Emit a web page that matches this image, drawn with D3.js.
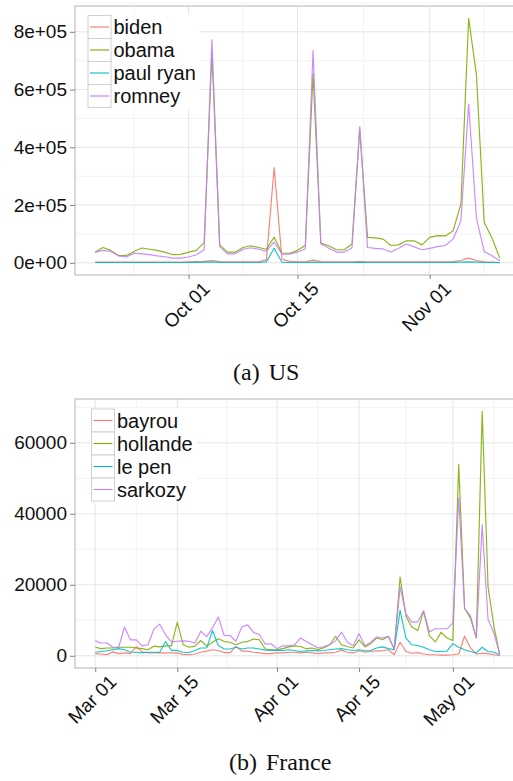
<!DOCTYPE html>
<html>
<head>
<meta charset="utf-8">
<script src="https://cdn.jsdelivr.net/npm/d3@7"></script>
<style>
  body { margin: 0; background: #fff; }
  svg { display: block; }
</style>
</head>
<body>
<script>
// US panel: daily counts, Sep 19 to Nov 10 2012
let usStart = "2012-09-19", usEnd = "2012-11-10"
let usNames = ["biden", "obama", "paul ryan", "romney"]
let biden = [
  2000, 2000, 2000, 2000, 2000, 2000, 2000, 2000, 2000, 2000,
  2000, 2000, 3000, 4000, 5000, 8000, 4000, 3000, 3000, 3000,
  3000, 3000, 10000, 330000, 12000, 5000, 3000, 3000, 9000, 4000,
  3000, 3000, 3000, 3000, 4000, 3000, 3000, 3000, 3000, 3000,
  3000, 3000, 3000, 3000, 3000, 3000, 4000, 8000, 16000, 8000,
  3000, 2000, 1000]
let obama = [
  37000, 53000, 43000, 25000, 25000, 39000, 51000, 47000, 43000, 36000,
  28000, 29000, 37000, 43000, 70000, 730000, 62000, 37000, 37000, 53000,
  59000, 53000, 47000, 89000, 33000, 33000, 43000, 60000, 655000, 68000,
  59000, 45000, 45000, 65000, 462000, 88000, 86000, 82000, 60000, 62000,
  76000, 76000, 62000, 88000, 94000, 93000, 111000, 203000, 847000, 651000,
  140000, 86000, 16000]
let paulRyan = [
  1000, 1000, 1000, 1000, 1000, 1000, 1000, 1000, 1000, 1000,
  1000, 1000, 1000, 1500, 2000, 3000, 1500, 1000, 1000, 1000,
  1000, 1000, 3000, 50000, 2000, 1000, 1000, 1000, 2000, 1000,
  1000, 1000, 1000, 1000, 1500, 1000, 1000, 1000, 1000, 1000,
  1000, 1000, 1000, 1000, 1000, 1000, 1500, 2000, 3000, 2000,
  1000, 1000, 500]
let romney = [
  36000, 43000, 39000, 24000, 20000, 33000, 31000, 28000, 24000, 21000,
  16000, 16000, 20000, 28000, 45000, 772000, 56000, 31000, 31000, 47000,
  52000, 47000, 40000, 72000, 30000, 30000, 37000, 48000, 735000, 66000,
  51000, 37000, 37000, 51000, 472000, 53000, 50000, 48000, 37000, 50000,
  65000, 55000, 45000, 50000, 56000, 60000, 82000, 145000, 550000, 155000,
  39000, 24000, 7000]
let usTicks = [0, 200000, 400000, 600000, 800000]
let usDateTicks = ["2012-10-01", "2012-10-15", "2012-11-01"]
let usDateMinor = ["2012-09-24", "2012-10-08", "2012-10-23T12:00", "2012-11-08"]

// France panel: daily counts, Mar 01 to May 09 2012
let frStart = "2012-03-01", frEnd = "2012-05-09"
let frNames = ["bayrou", "hollande", "le pen", "sarkozy"]
let bayrou = [
  600, 500, 300, 1100, 600, 800, 600, 2600, 1100, 800,
  800, 800, 800, 800, 800, 400, 300, 500, 1000, 1300,
  1700, 1500, 900, 900, 2600, 1300, 1300, 1000, 800, 600,
  600, 800, 800, 1000, 1000, 800, 1000, 800, 600, 800,
  800, 1000, 1600, 1000, 800, 1400, 1000, 1200, 1400, 1400,
  1700, 300, 3800, 1200, 700, 900, 500, 300, 300, 200,
  200, 300, 500, 5500, 2200, 500, 700, 600, 300, 0]
let hollande = [
  2400, 2000, 2200, 2200, 2400, 2400, 2400, 2200, 2000, 1700,
  2700, 2500, 2800, 2800, 9500, 3100, 2400, 2700, 4300, 2700,
  3800, 4800, 4000, 3800, 3100, 3800, 4000, 4700, 4500, 1900,
  1700, 1700, 2000, 2500, 2800, 2600, 2000, 2200, 1700, 2300,
  3100, 5500, 3100, 2600, 2200, 4500, 2500, 3400, 5000, 4500,
  5500, 1900, 22200, 11100, 8100, 7100, 12500, 5600, 3900, 6600,
  5000, 4300, 53900, 13400, 10600, 5000, 68900, 19500, 8300, 300]
let lePen = [
  1000, 1200, 1400, 1700, 2000, 1700, 1000, 1000, 800, 1000,
  1000, 1000, 4000, 1500, 1500, 1000, 900, 1500, 2200, 2200,
  7100, 2900, 1900, 1900, 2400, 1900, 2200, 2200, 1900, 1600,
  1500, 1500, 1500, 1700, 1500, 1200, 1400, 1500, 1400, 1500,
  1700, 1900, 2000, 1700, 1500, 1700, 1400, 1500, 2200, 2500,
  2000, 1700, 12800, 5000, 3100, 2900, 2400, 1700, 1200, 1200,
  1300, 3400, 2400, 1700, 1200, 800, 2400, 1200, 1000, 300]
let sarkozy = [
  4200, 3600, 3600, 2400, 2400, 8100, 4500, 4500, 2800, 3100,
  7500, 8900, 5900, 3900, 4100, 4200, 4100, 3600, 6900, 5400,
  7800, 10900, 5700, 5700, 4100, 8100, 8700, 6600, 6000, 3300,
  3400, 2000, 2800, 2800, 3100, 5000, 4000, 3100, 2200, 2600,
  3100, 4200, 6700, 3800, 2800, 6200, 2800, 3800, 5300, 5000,
  5500, 1900, 19400, 11800, 9500, 9500, 12700, 6700, 7600, 7600,
  7600, 9200, 44500, 13200, 11300, 5000, 36900, 10200, 6400, 300]
let frTicks = [0, 20000, 40000, 60000]
let frDateTicks = ["2012-03-01", "2012-03-15", "2012-04-01", "2012-04-15", "2012-05-01"]
let frDateMinor = ["2012-03-08", "2012-03-23T12:00", "2012-04-08", "2012-04-23", "2012-05-08"]

let colors = ["#F8766D", "#7CAE00", "#00BFC4", "#C77CFF"]

let width = 513, height = 781
let svg = d3.select("body").append("svg")
    .attr("width", width)
    .attr("height", height)

let parse = d3.isoParse
let sciFormat = v => d3.format(".0e")(v).replace(/e([+-])(\d)$/, "e$10$2")

function drawPanel(p) {
  let dates = d3.timeDay.range(parse(p.start), d3.timeDay.offset(parse(p.end), 1))
  let t0 = dates[0].getTime(), t1 = dates[dates.length - 1].getTime()
  let xpad = (t1 - t0) * 0.05
  let x = d3.scaleTime()
    .domain([new Date(t0 - xpad), new Date(t1 + xpad)])
    .range([p.left, p.right])

  let ymax = d3.max(p.values, s => d3.max(s))
  let ypad = ymax * 0.05
  let y = d3.scaleLinear()
    .domain([-ypad, ymax + ypad])
    .range([p.bottom, p.top])

  let g = svg.append("g")

  // minor then major grid lines
  let yMinor = p.yTicks.slice(1).map((v, i) => (v + p.yTicks[i]) / 2)
  yMinor.push(p.yTicks[p.yTicks.length - 1] + (p.yTicks[1] - p.yTicks[0]) / 2)
  g.selectAll(".ymin").data(yMinor).enter().append("line")
    .attr("x1", p.left).attr("x2", p.right)
    .attr("y1", d => y(d)).attr("y2", d => y(d))
    .attr("stroke", "#f2f2f2").attr("stroke-width", 1)
  g.selectAll(".xmin").data(p.xMinor.map(parse)).enter().append("line")
    .attr("x1", d => x(d)).attr("x2", d => x(d))
    .attr("y1", p.top).attr("y2", p.bottom)
    .attr("stroke", "#f2f2f2").attr("stroke-width", 1)
  g.selectAll(".ymaj").data(p.yTicks).enter().append("line")
    .attr("x1", p.left).attr("x2", p.right)
    .attr("y1", d => y(d)).attr("y2", d => y(d))
    .attr("stroke", "#e6e6e6").attr("stroke-width", 1)
  g.selectAll(".xmaj").data(p.xTicks.map(parse)).enter().append("line")
    .attr("x1", d => x(d)).attr("x2", d => x(d))
    .attr("y1", p.top).attr("y2", p.bottom)
    .attr("stroke", "#e6e6e6").attr("stroke-width", 1)

  // series lines
  let line = d3.line()
    .x((d, i) => x(dates[i]))
    .y(d => y(d))
  g.selectAll(".series").data(p.values).enter().append("path")
    .attr("d", line)
    .attr("fill", "none")
    .attr("stroke", (d, i) => colors[i])
    .attr("stroke-width", 1.15)
    .attr("stroke-opacity", 0.9)
    .attr("stroke-linejoin", "round")

  // panel border
  g.append("rect")
    .attr("x", p.left).attr("y", p.top)
    .attr("width", p.right - p.left).attr("height", p.bottom - p.top)
    .attr("fill", "none").attr("stroke", "#c4c4c4").attr("stroke-width", 1.3)

  // y axis
  let yAxis = g.append("g")
    .attr("transform", `translate(${p.left},0)`)
    .call(d3.axisLeft(y).tickValues(p.yTicks).tickFormat(p.yFormat).tickSize(5).tickPadding(3))
  yAxis.select(".domain").remove()
  yAxis.selectAll(".tick line").attr("stroke", "#808080")
  yAxis.selectAll(".tick text")
    .attr("font-family", "'Liberation Sans', Arial, sans-serif")
    .attr("font-size", 19).attr("fill", "#111")

  // x axis, rotated labels
  let xAxis = g.append("g")
    .attr("transform", `translate(0,${p.bottom})`)
    .call(d3.axisBottom(x).tickValues(p.xTicks.map(parse)).tickFormat(d3.timeFormat("%b %d")).tickSize(4))
  xAxis.select(".domain").remove()
  xAxis.selectAll(".tick line").attr("stroke", "#808080")
  xAxis.selectAll(".tick text")
    .attr("font-family", "'Liberation Sans', Arial, sans-serif")
    .attr("font-size", 19).attr("fill", "#111")
    .attr("text-anchor", "end")
    .attr("y", 0).attr("dy", null)
    .attr("transform", "translate(22,15) rotate(-45)")

  // legend
  let lg = g.append("g").attr("transform", `translate(${p.legendX},${p.legendY})`)
  let bg = lg.append("rect").attr("fill", "#fff")
  let key = 23
  let items = lg.selectAll(".key").data(p.names).enter().append("g")
    .attr("transform", (d, i) => `translate(0,${i * key})`)
  items.append("rect")
    .attr("width", key).attr("height", key)
    .attr("fill", "#fff").attr("stroke", "#d0d0d0").attr("stroke-width", 1)
  items.append("line")
    .attr("x1", 2).attr("x2", key - 2)
    .attr("y1", key / 2).attr("y2", key / 2)
    .attr("stroke", (d, i) => colors[i]).attr("stroke-width", 1.1)
  items.append("text")
    .attr("x", key + 2.5).attr("y", key / 2).attr("dy", "0.36em")
    .attr("font-family", "'Liberation Sans', Arial, sans-serif")
    .attr("font-size", 20).attr("fill", "#111")
    .text(d => d)
  let bb = lg.node().getBBox()
  bg.attr("x", -1).attr("y", -1).attr("width", bb.width + 5).attr("height", bb.height + 2)

  // caption
  let cap = svg.append("text")
    .attr("x", p.capX).attr("y", p.capY)
    .attr("font-family", "'Liberation Serif', 'Times New Roman', serif")
    .attr("font-size", 24).attr("fill", "#111")
  cap.append("tspan").text(p.caption[0])
  cap.append("tspan").attr("dx", 9).text(p.caption[1])
}

drawPanel({
  start: usStart, end: usEnd, names: usNames,
  values: [biden, obama, paulRyan, romney],
  yTicks: usTicks, yFormat: sciFormat,
  xTicks: usDateTicks, xMinor: usDateMinor,
  top: 6, bottom: 275, left: 75, right: 520,
  legendX: 88, legendY: 15.5,
  caption: ["(a)", "US"], capX: 233, capY: 380
})

drawPanel({
  start: frStart, end: frEnd, names: frNames,
  values: [bayrou, hollande, lePen, sarkozy],
  yTicks: frTicks, yFormat: d3.format("d"),
  xTicks: frDateTicks, xMinor: frDateMinor,
  top: 399, bottom: 668, left: 75, right: 520,
  legendX: 91.5, legendY: 409,
  caption: ["(b)", "France"], capX: 229, capY: 770
})
</script>
</body>
</html>
